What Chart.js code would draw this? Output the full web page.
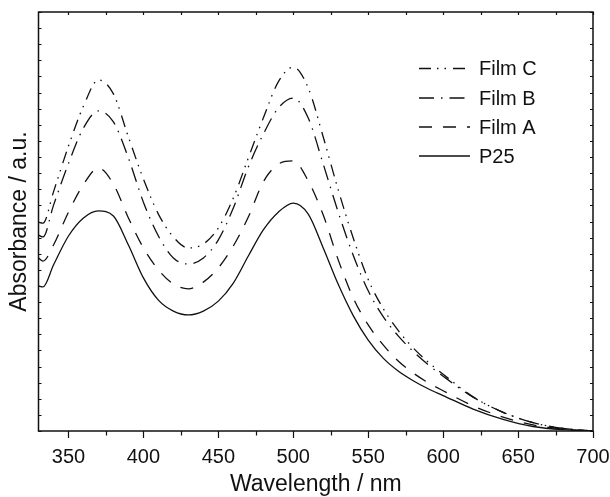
<!DOCTYPE html>
<html><head><meta charset="utf-8">
<script src="https://cdn.jsdelivr.net/npm/chart.js@4/dist/chart.umd.min.js"></script>
<style>html,body{margin:0;padding:0;background:#fff}#wrap{width:610px;height:497px;position:relative}</style>
</head><body><div id="wrap"><canvas id="c"></canvas></div>
<script>
const wavelengths = [330,333,340,350,360,370,380,390,400,410,420,430,440,450,460,470,480,490,500,510,520,530,540,550,560,570,580,590,600,620,640,660,680,700];
const filmC = [0.648,0.645,0.742,0.884,1.008,1.089,1.046,0.912,0.782,0.673,0.602,0.568,0.580,0.630,0.723,0.847,0.971,1.083,1.129,1.064,0.912,0.748,0.599,0.470,0.380,0.312,0.258,0.214,0.176,0.106,0.058,0.026,0.008,0.000];
const filmB = [0.608,0.602,0.700,0.830,0.940,0.993,0.959,0.847,0.710,0.605,0.537,0.518,0.537,0.593,0.692,0.819,0.921,1.002,1.033,0.971,0.828,0.679,0.545,0.435,0.355,0.295,0.247,0.206,0.170,0.105,0.058,0.026,0.008,0.000];
const filmA = [0.537,0.527,0.577,0.679,0.765,0.816,0.766,0.661,0.568,0.500,0.456,0.441,0.462,0.506,0.574,0.664,0.773,0.828,0.838,0.776,0.670,0.531,0.413,0.329,0.267,0.217,0.180,0.150,0.125,0.078,0.043,0.019,0.006,0.000];
const p25   = [0.450,0.447,0.515,0.605,0.661,0.683,0.667,0.577,0.475,0.406,0.372,0.360,0.372,0.403,0.459,0.543,0.624,0.679,0.707,0.673,0.568,0.455,0.358,0.282,0.226,0.186,0.156,0.131,0.110,0.068,0.036,0.014,0.004,0.000];
const seriesNames = ['Film C','Film B','Film A','P25'];
const xTickValues = [350,400,450,500,550,600,650,700];
const xMinorStep = 25;
const yTickStep = 0.05;

const dashes = [[12,6,1.5,6,1.5,7],[15,7,1.5,7],[13,11],[]];
const seriesData = [filmC, filmB, filmA, p25];

const datasets = seriesNames.map((name, i) => ({
  label: name,
  data: wavelengths.map((w, k) => ({x: w, y: seriesData[i][k]})),
  borderColor: '#111',
  borderWidth: 1.3,
  borderDash: dashes[i],
  pointRadius: 0,
  fill: false,
  cubicInterpolationMode: 'monotone'
}));

const framePlugin = {
  id: 'frame',
  afterDatasetsDraw(chart) {
    const {ctx, chartArea: a, scales: {x, y}} = chart;
    ctx.save();
    ctx.strokeStyle = '#111';
    ctx.lineWidth = 1.5;
    ctx.setLineDash([]);
    ctx.strokeRect(a.left, a.top, a.right - a.left, a.bottom - a.top);
    ctx.lineWidth = 1.2;
    ctx.beginPath();
    for (let v = 350; v <= x.max + 1e-6; v += xMinorStep) {
      const px = Math.round(x.getPixelForValue(v)) + 0.5;
      const major = v % 50 === 0;
      ctx.moveTo(px, a.bottom); ctx.lineTo(px, a.bottom + (major ? 7 : 4.5));
      ctx.moveTo(px, a.top); ctx.lineTo(px, a.top + 3);
    }
    for (let v = y.min; v <= y.max + 1e-6; v += yTickStep) {
      const py = Math.round(y.getPixelForValue(v)) + 0.5;
      ctx.moveTo(a.left, py); ctx.lineTo(a.left + 3, py);
      ctx.moveTo(a.right, py); ctx.lineTo(a.right - 3, py);
    }
    ctx.stroke();
    const rows = [68.5, 98, 127, 156];
    ctx.font = '20px "Liberation Sans", Arial, sans-serif';
    ctx.fillStyle = '#111';
    ctx.textBaseline = 'middle';
    chart.data.datasets.forEach((ds, i) => {
      ctx.lineWidth = ds.borderWidth;
      ctx.setLineDash(ds.borderDash);
      ctx.beginPath();
      ctx.moveTo(419, rows[i]); ctx.lineTo(470, rows[i]);
      ctx.stroke();
      ctx.setLineDash([]);
      ctx.fillText(ds.label, 479, rows[i] + 1);
    });
    ctx.restore();
  }
};

new Chart(document.getElementById('c'), {
  type: 'line',
  data: {datasets},
  plugins: [framePlugin],
  options: {
    responsive: true,
    maintainAspectRatio: false,
    animation: false,
    layout: {padding: {top: 12, right: 17, left: 0, bottom: 0}},
    plugins: {legend: {display: false}, tooltip: {enabled: false}},
    scales: {
      x: {
        type: 'linear', min: 330, max: 700,
        afterBuildTicks: s => { s.ticks = xTickValues.map(v => ({value: v})); },
        afterFit: s => { s.height = 66; s.paddingLeft = 0; s.paddingRight = 0; },
        grid: {display: false, drawTicks: false},
        border: {display: false},
        ticks: {color: '#111', padding: 14, maxRotation: 0, font: {family: '"Liberation Sans", Arial, sans-serif', size: 20}},
        title: {display: true, text: 'Wavelength / nm', color: '#111', padding: {top: 0, bottom: 1}, font: {family: '"Liberation Sans", Arial, sans-serif', size: 23, lineHeight: 1}}
      },
      y: {
        type: 'linear', min: 0, max: 1.3,
        afterFit: s => { s.width = 38.5; s.paddingTop = 0; s.paddingBottom = 0; },
        grid: {display: false, drawTicks: false},
        border: {display: false},
        ticks: {display: false},
        title: {display: true, text: 'Absorbance / a.u.', color: '#111', padding: {top: 8, bottom: 0}, font: {family: '"Liberation Sans", Arial, sans-serif', size: 23, lineHeight: 1}}
      }
    }
  }
});
</script>
</body></html>
